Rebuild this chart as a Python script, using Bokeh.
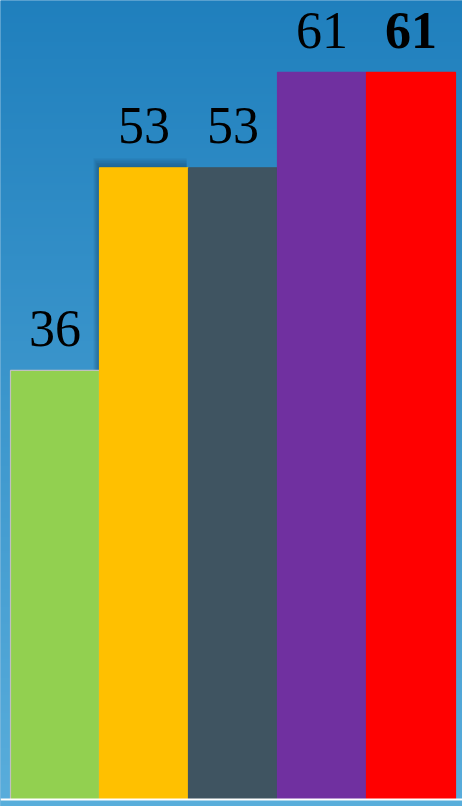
import numpy as np
from bokeh.plotting import figure
from bokeh.models import ColumnDataSource, Span, BoxAnnotation
from bokeh.core.properties import value
from bokeh.transform import dodge
from bokeh.embed import file_html
from bokeh.resources import INLINE

# ---- data ----
labels = ["36", "53", "53", "61", "61"]
values = [36, 53, 53, 61, 61]
colors = ["#92d050", "#ffc000", "#3f5461", "#7030a0", "#ff0000"]
font_styles = ["normal", "normal", "normal", "normal", "bold"]
line_colors = ["#c0c0c0", "#ffc000", "#3f5461", "#7030a0", "#ff0000"]

W, H = 462, 806
PX_X = 89.0          # pixels per category unit
PX_Y = 11.92         # pixels per value unit
x0, x1 = -0.5 - 10 / PX_X, 4.5 + 7 / PX_X
y0, y1 = -7 / PX_Y, 799 / PX_Y

p = figure(width=W, height=H, output_backend="svg", toolbar_location=None,
           x_range=(x0, x1), y_range=(y0, y1), min_border=0,
           background_fill_color="#2a88c6", border_fill_color="#2a88c6")
p.axis.visible = False
p.grid.visible = False
p.outline_line_color = None

# background gradient
top = np.array([31, 127, 189], dtype=float)
bot = np.array([90, 174, 220], dtype=float)
n = 400
t = np.linspace(0, 1, n)[:, None]  # row 0 is bottom in bokeh images
cols = bot * (1 - t) + top * t
img = np.zeros((n, 4), dtype=np.uint32)
view = img.view(dtype=np.uint8).reshape((n, 4, 4))
for j in range(4):
    view[:, j, 0] = cols[:, 0].astype(np.uint8)
    view[:, j, 1] = cols[:, 1].astype(np.uint8)
    view[:, j, 2] = cols[:, 2].astype(np.uint8)
    view[:, j, 3] = 255
pad_x = 0.1
pad_y = 1.0
p.image_rgba(image=[img], x=x0 - pad_x, y=y0 - pad_y,
             dw=x1 - x0 + 2 * pad_x, dh=y1 - y0 + 2 * pad_y)

xs = list(range(len(values)))
src = ColumnDataSource(dict(x=xs, top=values, color=colors, label=labels,
                            fs=font_styles, lc=line_colors))

# soft shadow behind the second bar
i = 1
for k in range(1, 7):
    p.quad(left=[xs[i] - 0.5 - k / PX_X], right=[xs[i] + 0.5 - 2 / PX_X],
           bottom=[0], top=[values[i] + k * 1.6 / PX_Y],
           fill_color="#0a2a45", fill_alpha=0.07, line_color=None)

p.vbar(x="x", top="top", bottom=0, width=1.0, fill_color="color",
       line_color="lc", line_width=1.2, source=src)

p.text(x="x", y=dodge("top", 42 / PX_Y), text="label", source=src,
       text_align="center", text_baseline="alphabetic",
       text_font=value("Liberation Serif"), text_font_size="52px",
       text_font_style="fs", text_color="#000000")

p.add_layout(BoxAnnotation(top=0, fill_color="#58aedb", fill_alpha=1.0,
                           line_color=None, level="overlay"))
p.add_layout(Span(location=0, dimension="width", line_color="#ffffff",
                  line_width=2, level="overlay"))

html = file_html(p, INLINE)
html = html.replace("<head>", "<head><style>html,body{margin:0;padding:0;overflow:hidden;}</style>", 1)
open("out.html", "w").write(html)
